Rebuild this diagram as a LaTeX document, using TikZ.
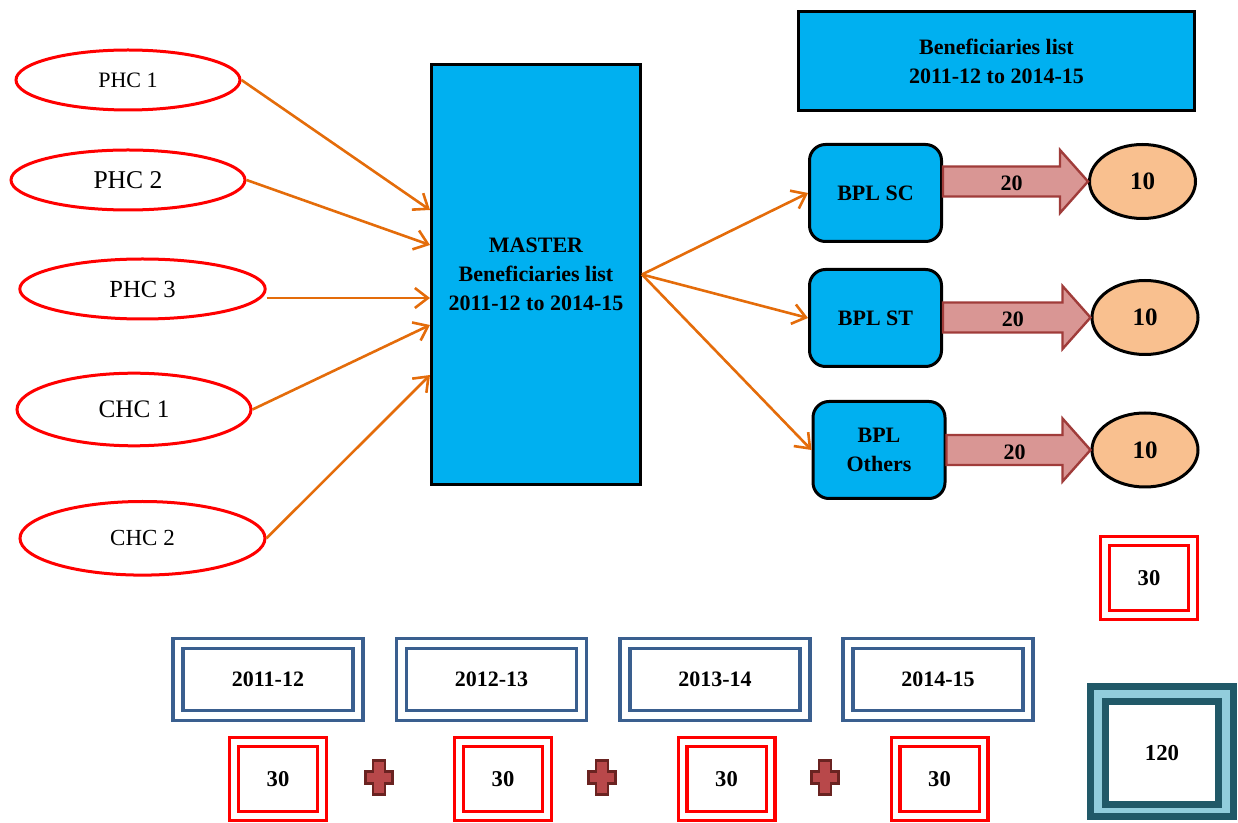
\documentclass[tikz,border=0pt]{standalone}
\usepackage{fontspec}
\setmainfont{Liberation Serif}
\usetikzlibrary{shapes.geometric,arrows.meta,calc}

\definecolor{cyanfill}{HTML}{00B0F0}
\definecolor{flowor}{HTML}{E46C0A}
\definecolor{ovalred}{HTML}{FF0000}
\definecolor{yearblue}{HTML}{3A5F8F}
\definecolor{fatfill}{HTML}{D99694}
\definecolor{fatline}{HTML}{A03C3A}
\definecolor{peach}{HTML}{F9C08F}
\definecolor{tealdark}{HTML}{215968}
\definecolor{teallight}{HTML}{92CDDC}
\definecolor{plusfill}{HTML}{B8484A}
\definecolor{plusline}{HTML}{6A2321}

\begin{document}
\begin{tikzpicture}[x=0.5pt,y=-0.5pt,
  source/.style={ellipse, draw=ovalred, line width=1.5pt, inner sep=0pt,
    minimum height=30pt},
  flow/.style={draw=flowor, line width=1.3pt,
    -{Straight Barb[length=6.5pt,width=10pt]}},
  bluebox/.style={rectangle, draw=black, line width=1.5pt, fill=cyanfill,
    align=center, inner sep=0pt, font=\bfseries\fontsize{11}{14.5}\selectfont},
  group/.style={bluebox, rounded corners=8pt, minimum width=66pt, minimum height=48.5pt},
  result/.style={ellipse, draw=black, line width=1.5pt, fill=peach, inner sep=0pt,
    minimum width=53pt, minimum height=37pt, font=\bfseries\fontsize{12.5}{15}\selectfont},
  fat/.style={draw=fatline, line width=1.2pt, fill=fatfill},
  fatlabel/.style={font=\bfseries\fontsize{11}{13}\selectfont, inner sep=0pt},
  yearbox/.style={rectangle, draw=yearblue, double=white, double distance=3.3pt,
    line width=1.65pt, minimum width=90pt, minimum height=36pt,
    font=\bfseries\fontsize{11}{13}\selectfont},
  countbox/.style={rectangle, draw=ovalred, double=white, double distance=2.8pt,
    line width=1.6pt, minimum width=44pt, minimum height=37pt,
    font=\bfseries\fontsize{11.3}{13}\selectfont},
  plus sign/.pic={
    \draw[fill=plusfill, draw=plusline, line width=1.2pt]
      (-3pt,8.5pt) -- (3pt,8.5pt) -- (3pt,3pt) -- (6.8pt,3pt)
      -- (6.8pt,-3pt) -- (3pt,-3pt) -- (3pt,-8.5pt) -- (-3pt,-8.5pt)
      -- (-3pt,-3pt) -- (-6.8pt,-3pt) -- (-6.8pt,3pt) -- (-3pt,3pt)
      -- cycle;
  }
]
\useasboundingbox (0,0) rectangle (1238,823);

% health centres feeding the master list
\node[source, minimum width=112pt, font=\fontsize{11}{13}\selectfont]
  (p1) at (128,80) {PHC 1};
\node[source, minimum width=117pt, font=\fontsize{12.8}{15}\selectfont]
  (p2) at (128,180) {PHC 2};
\node[source, minimum width=122.7pt, font=\fontsize{12.3}{15}\selectfont]
  (p3) at (142.5,289) {PHC 3};
\node[source, minimum width=117pt, minimum height=36.3pt, font=\fontsize{12.6}{15}\selectfont]
  (c1) at (134,409.5) {CHC 1};
\node[source, minimum width=122.5pt, minimum height=36.8pt, font=\fontsize{11.5}{14}\selectfont]
  (c2) at (142.5,538.3) {CHC 2};

% master list
\node[bluebox, minimum width=104.5pt, minimum height=210pt] (master) at (536,274.5)
  {MASTER\\Beneficiaries list\\2011-12 to 2014-15};

\draw[flow] (p1.east) -- ([yshift=32.25pt]master.west);
\draw[flow] (p2.east) -- ([yshift=14.75pt]master.west);
\draw[flow] ([yshift=-4.5pt]p3.east) -- ([yshift=-11.75pt]master.west);
\draw[flow] (c1.east) -- ([yshift=-25.25pt]master.west);
\draw[flow] (c2.east) -- ([yshift=-50.25pt]master.west);

% heading box on the right
\node[bluebox, minimum width=198pt, minimum height=49.5pt] (head) at (996.5,61)
  {Beneficiaries list\\2011-12 to 2014-15};

% category groups
\node[group] (sc) at (875.5,193) {BPL SC};
\node[group] (st) at (875.5,318) {BPL ST};
\node[group] (ot) at (879,450)   {BPL\\Others};

\draw[flow] (master.east) -- (sc.west);
\draw[flow] (master.east) -- (st.west);
\draw[flow] (master.east) -- (ot.west);

% selected per category
\node[result] (r1) at (1142.5,181.5) {10};
\node[result] (r2) at (1145,317.5)   {10};
\node[result] (r3) at (1145,450)     {10};

% block arrows from each group to its selection
\foreach \grp/\res in {sc/r1, st/r2, ot/r3} {
  \path[fat] let \p1=(\grp.east), \p2=(\res.west) in
    (\x1,{\y2+7.5pt}) -- ({\x2-14pt},{\y2+7.5pt}) -- ({\x2-14pt},{\y2+15.75pt})
    -- (\x2,\y2) -- ({\x2-14pt},{\y2-15.75pt}) -- ({\x2-14pt},{\y2-7.5pt})
    -- (\x1,{\y2-7.5pt}) -- cycle
    ({(\x1+\x2)/2-2pt},{\y2-1pt}) node[fatlabel] (lab\grp) {20};
}

% yearly total
\node[countbox] (yeartotal) at (1149,578) {30};

% financial years
\node[yearbox] (y1) at (268,679.5)   {2011-12};
\node[yearbox] (y2) at (491.5,679.5) {2012-13};
\node[yearbox] (y3) at (715,679.5)   {2013-14};
\node[yearbox] (y4) at (938,679.5)   {2014-15};

\node[countbox] (n1) at (278,779)   {30};
\node[countbox] (n2) at (503,779)   {30};
\node[countbox] (n3) at (726.5,779) {30};
\node[countbox] (n4) at (939.5,779) {30};

\pic at (379,777.5) {plus sign};
\pic at (602,777.5) {plus sign};
\pic at (825,777.5) {plus sign};

% grand total
\node[rectangle, draw=tealdark, line width=3.5pt, fill=teallight,
  minimum width=71.5pt, minimum height=65pt] (totalframe) at (1162,751.5) {};
\node[rectangle, draw=tealdark, line width=3.5pt, fill=white,
  minimum width=56.5pt, minimum height=51.5pt,
  font=\bfseries\fontsize{11.4}{13}\selectfont] (total) at (1162,753) {120};
\end{tikzpicture}
\end{document}
